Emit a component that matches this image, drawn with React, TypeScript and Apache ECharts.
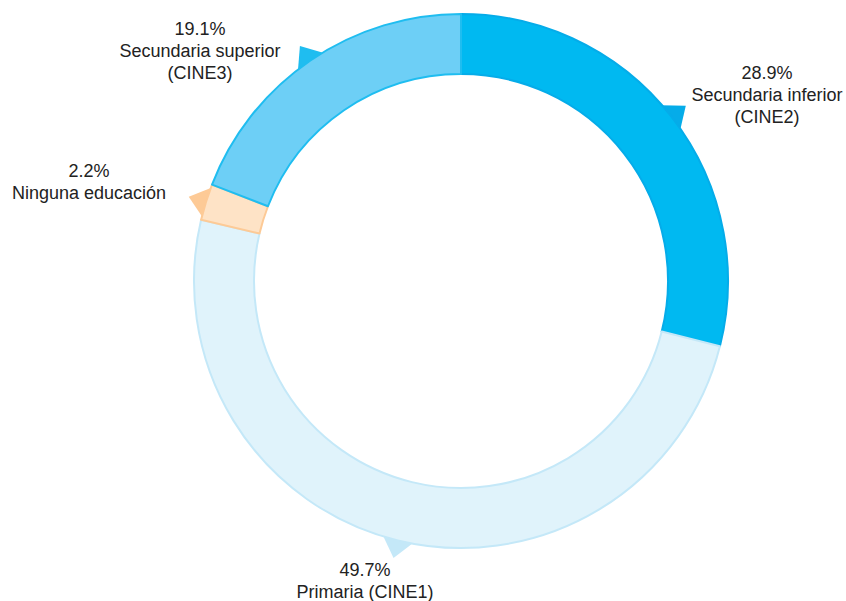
import React, { useEffect, useRef } from "react";
import * as echarts from "echarts";

const categories = [
  "Secundaria inferior\n(CINE2)",
  "Primaria (CINE1)",
  "Ninguna educación",
  "Secundaria superior\n(CINE3)",
];
const values = [28.9, 49.7, 2.2, 19.1];
const fillColors = ["#00b9f1", "#e0f3fb", "#fee3c6", "#6dcff6"];
const borderColors = ["#05ace9", "#c4e8f8", "#fdca96", "#1fbdf0"];
// label centre positions (layout only)
const labelPos: [number, number][] = [
  [767, 95],
  [365, 581],
  [89, 182],
  [200, 51],
];

const CX = 461;
const CY = 281;
const R_IN = 207;
const R_OUT = 267;

export default function App() {
  const ref = useRef<HTMLDivElement>(null);
  useEffect(() => {
    if (!ref.current) return;
    const chart = echarts.init(ref.current, undefined, { renderer: "svg" });
    const total = values.reduce((a, b) => a + b, 0);
    const cum: number[] = [];
    let acc = 0;
    values.forEach((v) => {
      cum.push(acc);
      acc += v;
    });
    const deg = Math.PI / 180;
    chart.setOption({
      animation: false,
      series: [
        {
          type: "custom",
          coordinateSystem: "none",
          silent: true,
          z: 1,
          data: values.map((v, i) => [v, i]),
          renderItem: (params: any) => {
            const i = params.dataIndex;
            const v = values[i];
            const a0 = (cum[i] / total) * 2 * Math.PI;
            const span = (v / total) * 2 * Math.PI;
            const mid = a0 + span / 2;
            const half = Math.min(3.4 * deg, span / 2 - 0.3 * deg);
            const rb = R_OUT - 1;
            const ra = R_OUT + 18;
            const pt = (a: number, r: number) => [
              CX + r * Math.sin(a),
              CY - r * Math.cos(a),
            ];
            return {
              type: "polygon",
              shape: { points: [pt(mid - half, rb), pt(mid, ra), pt(mid + half, rb)] },
              style: { fill: borderColors[i] },
            };
          },
        },
        {
          type: "pie",
          z: 2,
          silent: true,
          center: [CX, CY],
          radius: [R_IN, R_OUT],
          startAngle: 90,
          clockwise: true,
          data: values.map((v, i) => ({
            name: categories[i],
            value: v,
            itemStyle: {
              color: fillColors[i],
              borderColor: borderColors[i],
              borderWidth: 2,
            },
          })),
          label: {
            show: true,
            position: "outside",
            formatter: (p: any) => `${p.value.toFixed(1)}%\n${p.name}`,
            fontFamily: "Liberation Sans, Arial, sans-serif",
            fontSize: 18,
            lineHeight: 22,
            color: "#222",
            align: "center",
            overflow: "none",
            width: 240,
          },
          labelLine: { show: false },
          labelLayout: (params: any) => {
            const p = labelPos[params.dataIndex];
            return {
              x: p[0],
              y: p[1],
              align: "center",
              verticalAlign: "middle",
            };
          },
        },
      ],
    });
    return () => chart.dispose();
  }, []);
  return (
    <div
      ref={ref}
      style={{ position: "absolute", left: 0, top: 0, width: 846, height: 601 }}
    />
  );
}
